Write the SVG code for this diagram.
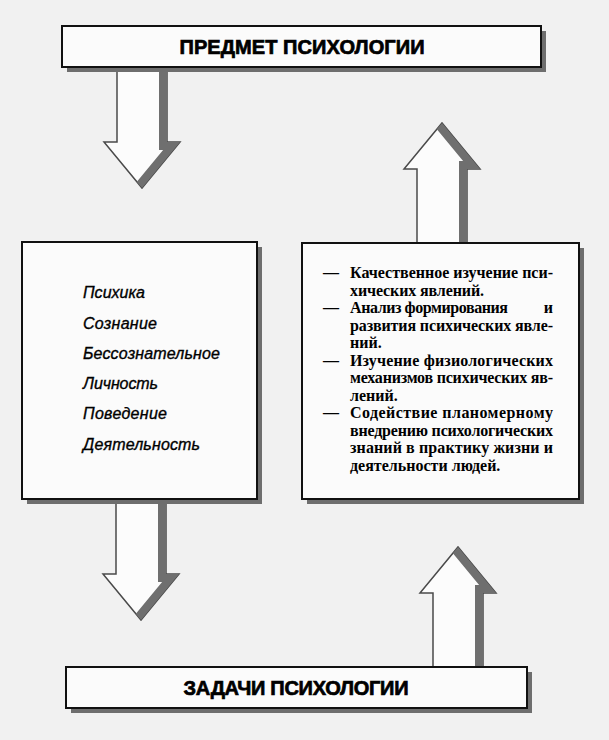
<svg xmlns="http://www.w3.org/2000/svg" xmlns:xlink="http://www.w3.org/1999/xlink" width="609" height="740" viewBox="0 0 609 740">
  <style>
    .bg { fill: #f1f1f1; }
    .shadow { fill: #6e6e6e; }
    .box { fill: #fbfbfb; stroke: #111; stroke-width: 2; }
    .title { font-family: "Liberation Sans", Arial, sans-serif; font-weight: bold; font-size: 20px; fill: #000; stroke: #000; stroke-width: 0.7; text-anchor: middle; }
    .item { font-family: "Liberation Sans", Arial, sans-serif; font-style: italic; font-size: 16px; fill: #000; stroke: #000; stroke-width: 0.35; }
    .task { font-family: "Liberation Serif", "Times New Roman", serif; font-weight: bold; font-size: 16px; fill: #000; }
    .arrow-body { fill: #fcfcfc; stroke: #4a4a4a; stroke-width: 1.5; stroke-linejoin: miter; }
    .arrow-band { fill: none; stroke: #6f6f6f; stroke-width: 16; stroke-linejoin: miter; }
  </style>
  <defs>
    <clipPath id="arrowClip">
      <path d="M-25,0 L-25,76 L-38,76 L0,122 L38,76 L25,76 L25,0 Z"/>
    </clipPath>
    <g id="arrow">
      <path class="arrow-body" d="M-25,0 L-25,76 L-38,76 L0,122 L38,76 L25,76 L25,0 Z"/>
      <path class="arrow-band" d="M25,-6 L25,76 L38,76 L0,122" clip-path="url(#arrowClip)"/>
    </g>
  </defs>

  <rect class="bg" x="0" y="0" width="609" height="740"/>

  <g id="connectors">
    <use id="arrow-predmet-down" xlink:href="#arrow" href="#arrow" transform="translate(142,66)"/>
    <use id="arrow-tasks-up" xlink:href="#arrow" href="#arrow" transform="translate(442,245) scale(1,-1)"/>
    <use id="arrow-list-down" xlink:href="#arrow" href="#arrow" transform="translate(141,498)"/>
    <use id="arrow-zadachi-up" xlink:href="#arrow" href="#arrow" transform="translate(458,669) scale(1,-1)"/>
  </g>

  <g id="node-predmet">
    <rect class="shadow" x="67" y="31" width="479" height="41"/>
    <rect class="box" x="62" y="26" width="479" height="41"/>
    <text class="title" x="302" y="54" textLength="245">ПРЕДМЕТ ПСИХОЛОГИИ</text>
  </g>

  <g id="node-list">
    <rect class="shadow" x="27" y="247" width="235" height="257"/>
    <rect class="box" x="22" y="242" width="235" height="257"/>
    <text class="item" x="83" y="298" textLength="62">Психика</text>
    <text class="item" x="83" y="329" textLength="74">Сознание</text>
    <text class="item" x="83" y="359" textLength="137">Бессознательное</text>
    <text class="item" x="83" y="389" textLength="75">Личность</text>
    <text class="item" x="83" y="419" textLength="84">Поведение</text>
    <text class="item" x="83" y="450" textLength="117">Деятельность</text>
  </g>

  <g id="node-tasks">
    <rect class="shadow" x="307" y="248" width="277" height="256"/>
    <rect class="box" x="302" y="243" width="277" height="256"/>
    <text class="task" x="323" y="278">—</text>
    <text class="task" x="350" y="278" textLength="203">Качественное изучение пси-</text>
    <text class="task" x="350" y="296" textLength="134">хических явлений.</text>
    <text class="task" x="323" y="313">—</text>
    <text class="task" x="350" y="313" textLength="158">Анализ формирования</text>
    <text class="task" x="553" y="313" text-anchor="end">и</text>
    <text class="task" x="350" y="331" textLength="203">развития психических явле-</text>
    <text class="task" x="350" y="348">ний.</text>
    <text class="task" x="323" y="366">—</text>
    <text class="task" x="350" y="366" textLength="203">Изучение физиологических</text>
    <text class="task" x="350" y="383" textLength="203">механизмов психических яв-</text>
    <text class="task" x="350" y="401">лений.</text>
    <text class="task" x="323" y="418">—</text>
    <text class="task" x="350" y="418" textLength="203">Содействие планомерному</text>
    <text class="task" x="350" y="436" textLength="203">внедрению психологических</text>
    <text class="task" x="350" y="453" textLength="203">знаний в практику жизни и</text>
    <text class="task" x="350" y="471">деятельности людей.</text>
  </g>

  <g id="node-zadachi">
    <rect class="shadow" x="71" y="672" width="461" height="41"/>
    <rect class="box" x="66" y="667" width="461" height="41"/>
    <text class="title" x="296" y="695" textLength="225">ЗАДАЧИ ПСИХОЛОГИИ</text>
  </g>
</svg>
